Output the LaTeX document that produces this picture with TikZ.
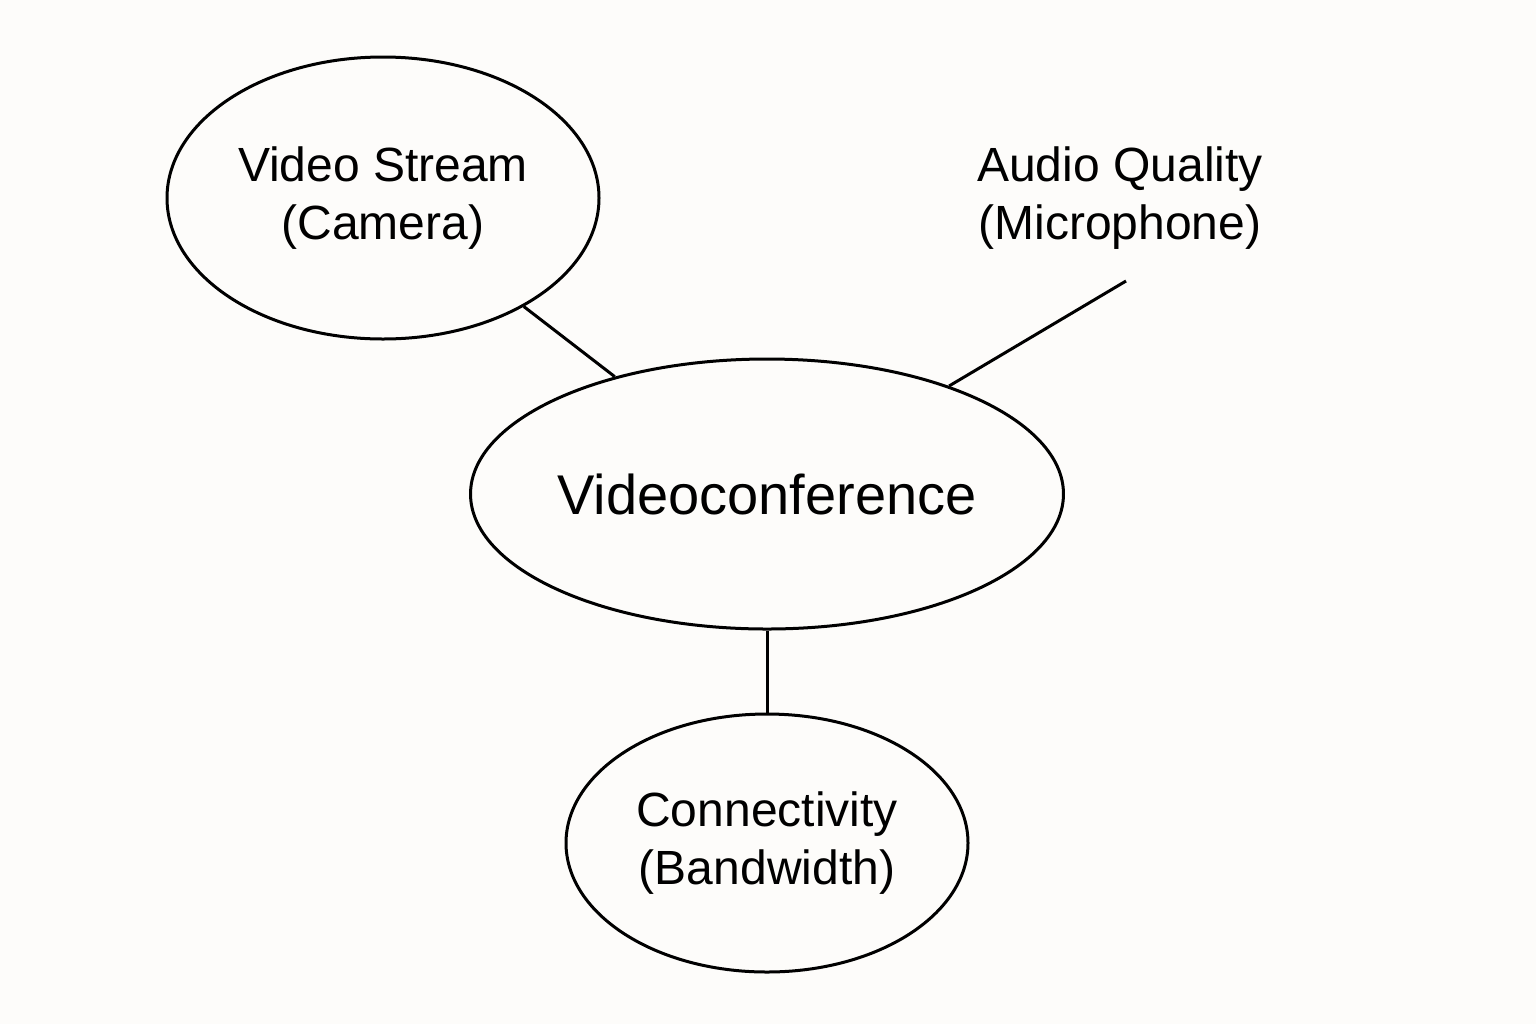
\documentclass[tikz,border=0pt]{standalone}
\usepackage{fontspec}
\setmainfont{Liberation Sans}
\usetikzlibrary{shapes.geometric}
\definecolor{bg}{HTML}{FDFCFA}
\begin{document}
\begin{tikzpicture}[x=0.5pt,y=-0.5pt,
  ell/.style={draw,ellipse,line width=1.5pt,inner sep=0pt,align=center,font=\fontsize{24}{29}\selectfont},
  con/.style={line width=1.5pt}]
\fill[bg] (0,0) rectangle (1536,1024);
\useasboundingbox (0,0) rectangle (1536,1024);
\node[ell,minimum width=216pt,minimum height=141pt] (vs) at (383,198) {Video Stream\\(Camera)};
\node[ell,minimum width=283pt,minimum height=135pt,font=\fontsize{28}{34}\selectfont] (vc) at (767,494) {Videoconference};
\node[ell,minimum width=201pt,minimum height=129pt] (cn) at (767,843) {Connectivity\\(Bandwidth)};
\node[align=center,font=\fontsize{24}{29}\selectfont] (aq) at (1120,198) {Audio Quality\\(Microphone)};
\coordinate (a1) at (1126,281);
\draw[con] (vs) -- (vc);
\draw[con] (a1) -- (vc);
\draw[con] (vc) -- (cn);
\end{tikzpicture}
\end{document}
